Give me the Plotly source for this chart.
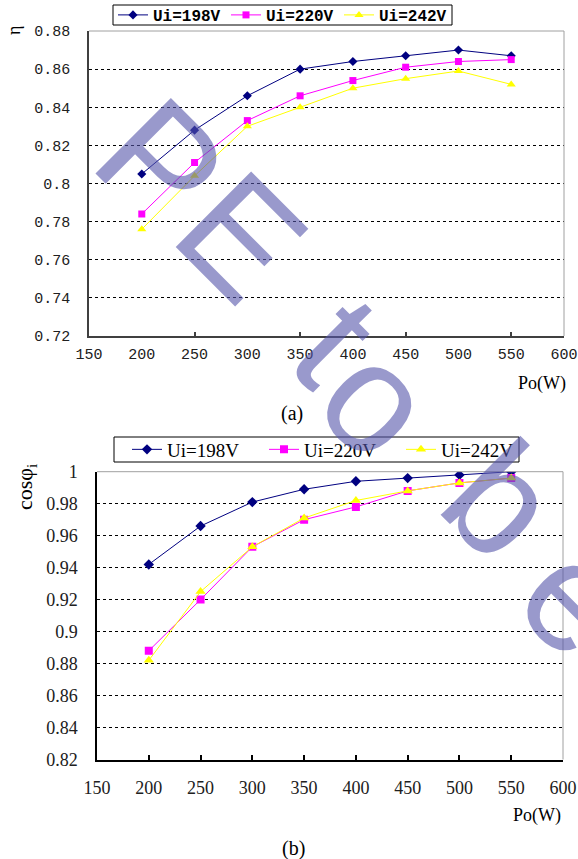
import plotly.graph_objects as go

W, H = 578, 859

# ---------------- data ----------------
po = [200, 250, 300, 350, 400, 450, 500, 550]
series_names = ["Ui=198V", "Ui=220V", "Ui=242V"]

eta_198 = [0.805, 0.828, 0.846, 0.860, 0.864, 0.867, 0.870, 0.867]
eta_220 = [0.784, 0.811, 0.833, 0.846, 0.854, 0.861, 0.864, 0.865]
eta_242 = [0.776, 0.804, 0.830, 0.840, 0.850, 0.855, 0.859, 0.852]

cos_198 = [0.942, 0.966, 0.981, 0.989, 0.994, 0.996, 0.998, 1.000]
cos_220 = [0.888, 0.920, 0.953, 0.970, 0.978, 0.988, 0.993, 0.996]
cos_242 = [0.882, 0.925, 0.953, 0.971, 0.982, 0.988, 0.993, 0.996]

x_ticks = [150, 200, 250, 300, 350, 400, 450, 500, 550, 600]
x_marks_a = [250, 350, 450, 550]

eta_ticks = [0.72, 0.74, 0.76, 0.78, 0.80, 0.82, 0.84, 0.86, 0.88]
eta_labels = ["0.72", "0.74", "0.76", "0.78", "0.8", "0.82", "0.84", "0.86", "0.88"]
cos_ticks = [0.82, 0.84, 0.86, 0.88, 0.90, 0.92, 0.94, 0.96, 0.98, 1.00]
cos_labels = ["0.82", "0.84", "0.86", "0.88", "0.9", "0.92", "0.94", "0.96", "0.98", "1"]

colors = ["#000080", "#FF00FF", "#FFFF00"]
symbols = ["diamond", "square", "triangle-up"]
sizes_a = [7, 7, 8]
sizes_b = [8, 8, 9]


def px(x, y):
    return x / W, 1 - y / H


fig = go.Figure()

for name, ys, c, s, sz in zip(series_names, [eta_198, eta_220, eta_242], colors, symbols, sizes_a):
    fig.add_trace(go.Scatter(x=po, y=ys, name=name, mode="lines+markers",
                             line=dict(color=c, width=1),
                             marker=dict(symbol=s, size=sz, color=c),
                             xaxis="x", yaxis="y", legend="legend"))

for name, ys, c, s, sz in zip(series_names, [cos_198, cos_220, cos_242], colors, symbols, sizes_b):
    fig.add_trace(go.Scatter(x=po, y=ys, name=name, mode="lines+markers",
                             line=dict(color=c, width=1),
                             marker=dict(symbol=s, size=sz, color=c),
                             xaxis="x2", yaxis="y2", legend="legend2"))

# dummy trace for tick-only overlay axis of (a)
fig.add_trace(go.Scatter(x=[None], y=[None], xaxis="x3", yaxis="y",
                         showlegend=False, hoverinfo="skip"))

mono = "Liberation Mono"
serif = "Liberation Serif"

dom_a_x = [89 / W, 564 / W]
dom_a_y = [1 - 336 / H, 1 - 31 / H]
dom_b_x = [97 / W, 563 / W]
dom_b_y = [1 - 759.5 / H, 1 - 471.7 / H]

grid = dict(showgrid=True, gridcolor="#000000", gridwidth=1, griddash="3px,3px")

fig.update_layout(
    width=W, height=H,
    margin=dict(l=0, r=0, t=0, b=0, autoexpand=False),
    paper_bgcolor="white", plot_bgcolor="white",
    xaxis=dict(domain=dom_a_x, anchor="y", range=[150, 600], tickmode="array",
               tickvals=x_ticks, ticks="", showgrid=False, zeroline=False, automargin=False,
               showline=True, linecolor="#404040", linewidth=1.5,
               tickfont=dict(family=mono, size=15, color="#202020"),
               ticklabelstandoff=3),
    xaxis3=dict(overlaying="x", anchor="y", range=[150, 600], tickmode="array",
                tickvals=x_marks_a, ticks="inside", ticklen=4, tickcolor="#404040",
                tickwidth=1.5, showticklabels=False, showgrid=False, zeroline=False,
                showline=False, side="bottom", automargin=False),
    yaxis=dict(domain=dom_a_y, anchor="x", range=[0.72, 0.88], tickmode="array",
               tickvals=eta_ticks, ticktext=eta_labels, ticks="", zeroline=False,
               showline=True, linecolor="#404040", linewidth=1.5, automargin=False,
               tickfont=dict(family=mono, size=15, color="#202020"),
               ticklabelstandoff=14, **grid),
    xaxis2=dict(domain=dom_b_x, anchor="y2", range=[150, 600], tickmode="array",
                tickvals=x_ticks, ticks="inside", ticklen=5, tickcolor="#000000",
                tickwidth=1.5, showgrid=False, zeroline=False, automargin=False,
                showline=True, linecolor="#000000", linewidth=1.5,
                tickfont=dict(family=serif, size=18, color="#202020"),
                ticklabelstandoff=11),
    yaxis2=dict(domain=dom_b_y, anchor="x2", range=[0.82, 1.0], tickmode="array",
                tickvals=cos_ticks, ticktext=cos_labels, ticks="", zeroline=False,
                showline=True, linecolor="#000000", linewidth=1.5, automargin=False,
                tickfont=dict(family=serif, size=18, color="#202020"),
                ticklabelstandoff=14, **grid),
    legend=dict(x=113 / W, y=1 - 15 / H, xanchor="left", yanchor="middle",
                orientation="h", bgcolor="rgba(0,0,0,0)", borderwidth=0,
                font=dict(family=mono, size=16, color="#000000", weight="bold"),
                entrywidth=68, tracegroupgap=0, itemwidth=30),
    legend2=dict(x=127 / W, y=1 - 449.5 / H, xanchor="left", yanchor="middle",
                 orientation="h", bgcolor="rgba(0,0,0,0)", borderwidth=0,
                 font=dict(family=serif, size=19, color="#000000"),
                 entrywidth=92, tracegroupgap=0, itemwidth=30),
    showlegend=True,
)

# legend boxes
for (x0, y0, x1, y1) in [(113, 5, 452, 25), (114, 437, 519, 462)]:
    X0, Y0 = px(x0, y0)
    X1, Y1 = px(x1, y1)
    fig.add_shape(type="rect", xref="paper", yref="paper", x0=X0, x1=X1, y0=Y1, y1=Y0,
                  line=dict(color="#000000", width=1), fillcolor="white", layer="below")

# grey top/right borders
for xr, yr in [("x domain", "y domain"), ("x2 domain", "y2 domain")]:
    fig.add_shape(type="line", xref=xr, yref=yr, x0=0, x1=1, y0=1, y1=1,
                  line=dict(color="#A0A0A0", width=1), layer="above")
    fig.add_shape(type="line", xref=xr, yref=yr, x0=1, x1=1, y0=0, y1=1,
                  line=dict(color="#A0A0A0", width=1), layer="above")

ann = []


def text(x, y, t, size, family=serif, angle=0, color="#000000", xa="center", ya="middle"):
    X, Y = px(x, y)
    ann.append(dict(x=X, y=Y, xref="paper", yref="paper", text=t, showarrow=False,
                    textangle=angle, xanchor=xa, yanchor=ya,
                    font=dict(family=family, size=size, color=color)))


text(14, 31, "η", 18, angle=-90)
text(26, 487, "cosφ<sub>i</sub>", 22, angle=-90)
text(542, 384, "Po(W)", 18)
text(537, 815, "Po(W)", 18)
text(292, 413, "(a)", 20)
text(293, 848, "(b)", 20)

# watermark letters
wm = "rgba(85,85,170,0.6)"
for ch, x, y in [("P", 160, 163), ("E", 241, 236), ("t", 336, 340),
                 ("o", 378, 400), ("b", 502, 500), ("e", 578, 598)]:
    text(x, y, ch, 155, family="Liberation Sans", angle=45, color=wm)

fig.update_layout(annotations=ann)
fig.write_html("out.html")
